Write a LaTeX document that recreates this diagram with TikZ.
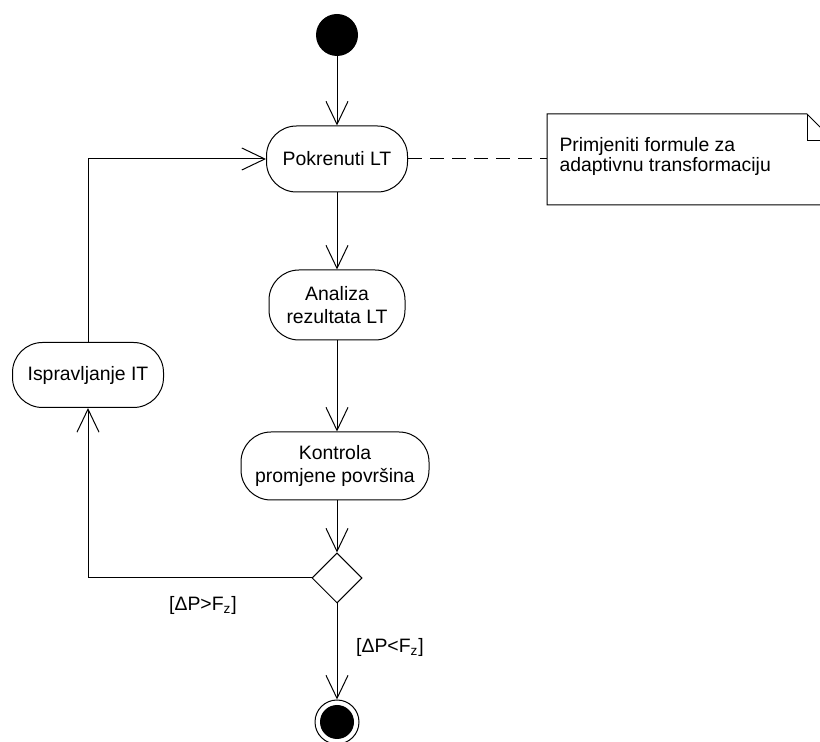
\documentclass[tikz,border=0pt]{standalone}
\usepackage{fontspec}
\setmainfont{Liberation Sans}
\usetikzlibrary{arrows.meta,shapes.geometric}

\begin{document}
\begin{tikzpicture}[x=0.5pt,y=-0.5pt,line width=0.5pt,
  every node/.style={font=\fontsize{9.7}{11.5}\selectfont},
  activity/.style={draw,rounded corners=15pt,align=center,minimum height=33pt,inner xsep=6pt},
  flow/.style={-{Straight Barb[length=11.5pt,width=11pt]}}]
\useasboundingbox (0,0) rectangle (820,742);

% Start
\node[circle,fill,minimum size=21pt,inner sep=0pt] (start) at (337,35) {};

% Activities
\node[activity,minimum width=70.5pt] (pokrenuti) at (337,159) {Pokrenuti LT};
\node[activity,minimum width=68pt,minimum height=35pt] (analiza) at (337,305) {Analiza\\rezultata LT};
\node[activity,minimum width=94pt,minimum height=34pt] (kontrola) at (335,466) {Kontrola\\promjene površina};
\node[activity,minimum width=75.5pt,minimum height=32.5pt] (ispravljanje) at (88,375) {Ispravljanje IT};

% Decision
\node[diamond,draw,aspect=1,minimum size=25pt,inner sep=0pt] (odluka) at (337,578) {};

% End
\node[circle,draw,minimum size=22pt,inner sep=0pt] (kraj) at (337,722) {};
\fill (kraj) circle (8.5pt);

% Note
\draw (547,114) -- (807,114) -- (834,141) -- (834,205) -- (547,205) -- cycle;
\draw (807,114) -- (807,141) -- (834,141);
\coordinate (biljeska) at (547,159);
\node[anchor=north west,align=left,inner sep=0pt,font=\fontsize{9.7}{10}\selectfont] (biljeskatekst) at (559,137)
  {Primjeniti formule za\\adaptivnu transformaciju};

% Flows
\draw[flow] (start) -- (pokrenuti);
\draw[flow] (pokrenuti) -- (analiza);
\draw[flow] (analiza) -- (kontrola.north -| analiza);
\draw[flow] (kontrola.south -| odluka) -- (odluka);
\draw[flow] (odluka) -- (kraj);
\draw[flow] (odluka.west) -| (ispravljanje);
\draw[flow] (ispravljanje) |- (pokrenuti);
\draw[dash pattern=on 7pt off 4pt] (pokrenuti) -- (biljeska);

% Guards
\node (vece) at (203,605) {[ΔP>F\textsubscript{z}]};
\node (manje) at (390,647) {[ΔP<F\textsubscript{z}]};

\end{tikzpicture}
\end{document}
